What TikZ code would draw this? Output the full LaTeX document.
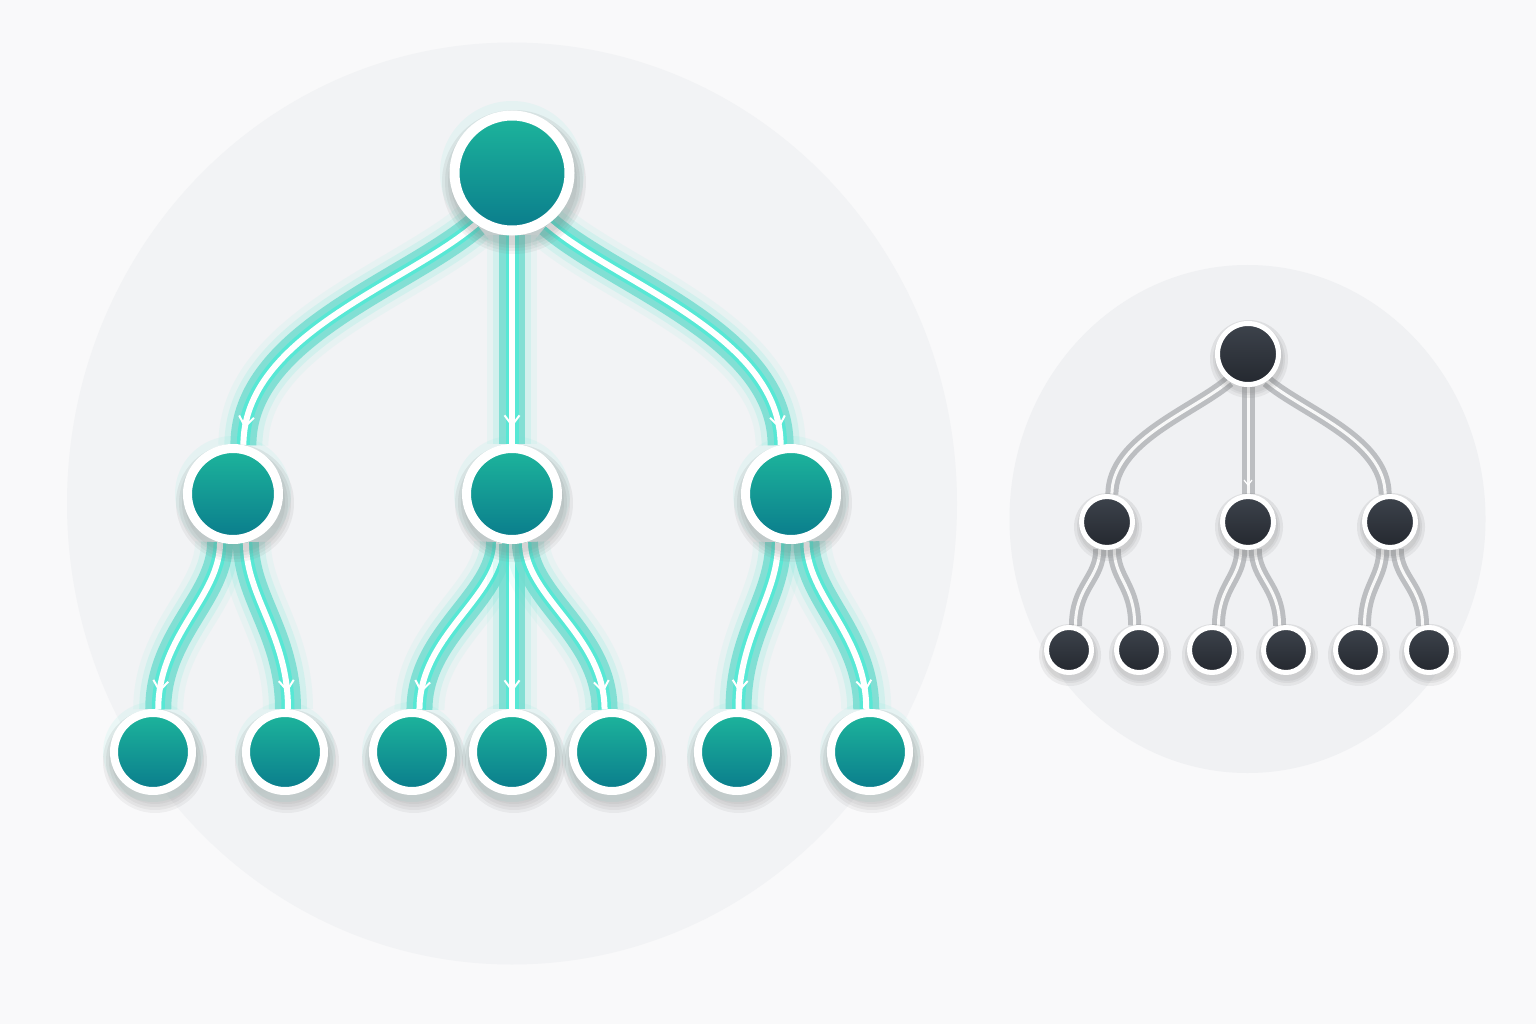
\documentclass[tikz,border=0pt]{standalone}
\usetikzlibrary{decorations.markings,arrows.meta}
\definecolor{pagebg}{HTML}{F9F9FA}
\definecolor{bigbg}{HTML}{F2F3F5}
\definecolor{smallbg}{HTML}{F0F1F3}
\definecolor{tealtop}{HTML}{1DB59C}
\definecolor{tealbot}{HTML}{0A7C8C}
\definecolor{darktop}{HTML}{3D434C}
\definecolor{darkbot}{HTML}{24282F}
\definecolor{tband}{HTML}{74DDD0}
\definecolor{tbright}{HTML}{45EDD6}
\definecolor{tglow}{HTML}{3FE6CF}
\definecolor{gband}{HTML}{B7B9BC}
\definecolor{shade}{HTML}{5A6470}
\pgfdeclarelayer{bgzero}
\pgfdeclarelayer{edges}
\pgfdeclarelayer{shadows}
\pgfsetlayers{bgzero,edges,shadows,main}
\tikzset{
  tnode/.style={circle, draw=white, inner sep=0pt, top color=tealtop, bottom color=tealbot},
  troot/.style={tnode, line width=10pt, minimum size=115pt},
  tmid/.style={tnode, line width=9pt, minimum size=91pt},
  tleaf/.style={tnode, line width=8pt, minimum size=78pt},
  dnode/.style={circle, draw=white, inner sep=0pt, line width=5pt, top color=darktop, bottom color=darkbot},
  droot/.style={dnode, minimum size=61pt},
  dmid/.style={dnode, minimum size=51pt},
  dleaf/.style={dnode, minimum size=45pt},
  tedge/.style={draw=tband, line width=26pt, draw opacity=0.85,
    preaction={draw=tglow, line width=50pt, draw opacity=0.06},
    preaction={draw=tglow, line width=38pt, draw opacity=0.12},
    postaction={draw=tbright, line width=13pt, draw opacity=0.7},
    postaction={draw=white, line width=6pt, draw opacity=1},
    postaction={decorate, decoration={markings, mark=at position -17pt with
      {\arrow[white, draw opacity=1]{Straight Barb[length=10pt, width=15pt, line width=2pt]}}}}},
  gedge/.style={draw=gband, line width=13pt, draw opacity=0.9,
    postaction={draw=white, line width=3pt, draw opacity=0.9}},
  garrow/.style={postaction={decorate, decoration={markings, mark=at position -8pt with
      {\arrow[white, draw opacity=1]{Straight Barb[length=5pt, width=8pt, line width=1.2pt]}}}}}
}
\begin{document}
\begin{tikzpicture}[x=1pt,y=-1pt]
\begin{pgfonlayer}{bgzero}
\fill[pagebg] (0,0) rectangle (1536,1024);
\fill[bigbg] (512,503.5) ellipse[x radius=445pt, y radius=461pt];
\fill[smallbg] (1247.5,519) ellipse[x radius=238pt, y radius=254pt];
\end{pgfonlayer}
\useasboundingbox (0,0) rectangle (1536,1024);

% big tree nodes
\node[troot] (root) at (512,173) {};
\node[tmid] (l1) at (233,494) {};
\node[tmid] (m1) at (512,494) {};
\node[tmid] (r1) at (791,494) {};
\node[tleaf] (a) at (153,752) {};
\node[tleaf] (b) at (285,752) {};
\node[tleaf] (c) at (412,752) {};
\node[tleaf] (d) at (512,752) {};
\node[tleaf] (e) at (612,752) {};
\node[tleaf] (f) at (737,752) {};
\node[tleaf] (g) at (870,752) {};

% small tree nodes
\node[droot] (sr) at (1248,354) {};
\node[dmid] (sl) at (1107,522) {};
\node[dmid] (sm) at (1248,522) {};
\node[dmid] (sq) at (1390,522) {};
\node[dleaf] (la) at (1069,650) {};
\node[dleaf] (lb) at (1139,650) {};
\node[dleaf] (lc) at (1212,650) {};
\node[dleaf] (ld) at (1286,650) {};
\node[dleaf] (le) at (1358,650) {};
\node[dleaf] (lf) at (1429,650) {};

\begin{pgfonlayer}{shadows}
\foreach \n/\r in {root/63,l1/50,m1/50,r1/50,a/43,b/43,c/43,d/43,e/43,f/43,g/43}{
  \foreach \k in {9,6,3,0}{
    \fill[shade, opacity=0.045] ([shift={(2,9)}]\n.center) circle[radius=\r pt+\k pt];
  }
}
\foreach \n/\r in {sr/33,sl/28,sm/28,sq/28,la/25,lb/25,lc/25,ld/25,le/25,lf/25}{
  \foreach \k in {6,3,1}{
    \fill[shade, opacity=0.05] ([shift={(1,5)}]\n.center) circle[radius=\r pt+\k pt];
  }
}
\end{pgfonlayer}

\begin{pgfonlayer}{edges}
\foreach \n/\r in {root/72,l1/58,m1/58,r1/58,a/50,b/50,c/50,d/50,e/50,f/50,g/50}{
  \fill[tglow, opacity=0.07] (\n) circle[radius=\r pt];
}
\draw[tedge] (root.-125) .. controls +(-70,60) and +(0,-110) .. (l1.78);
\draw[tedge] (root.south) -- (m1.north);
\draw[tedge] (root.-55) .. controls +(70,60) and +(0,-110) .. (r1.102);

\draw[tedge] (l1.-105) .. controls +(0,55) and +(0,-75) .. (a.83);
\draw[tedge] (l1.-75) .. controls +(0,55) and +(0,-75) .. (b.86);
\draw[tedge] (m1.-105) .. controls +(0,55) and +(0,-75) .. (c.80);
\draw[tedge] (m1.south) -- (d.north);
\draw[tedge] (m1.-75) .. controls +(0,55) and +(0,-75) .. (e.100);
\draw[tedge] (r1.-105) .. controls +(0,55) and +(0,-75) .. (f.88);
\draw[tedge] (r1.-72) .. controls +(0,55) and +(0,-75) .. (g.95);

\draw[gedge] (sr.-125) .. controls +(-35,30) and +(0,-55) .. (sl.80);
\draw[gedge,garrow] (sr.south) -- (sm.north);
\draw[gedge] (sr.-55) .. controls +(35,30) and +(0,-55) .. (sq.100);
\draw[gedge] (sl.-105) .. controls +(0,30) and +(0,-40) .. (la.75);
\draw[gedge] (sl.-75) .. controls +(0,30) and +(0,-40) .. (lb.100);
\draw[gedge] (sm.-105) .. controls +(0,30) and +(0,-40) .. (lc.75);
\draw[gedge] (sm.-75) .. controls +(0,30) and +(0,-40) .. (ld.105);
\draw[gedge] (sq.-105) .. controls +(0,30) and +(0,-40) .. (le.75);
\draw[gedge] (sq.-75) .. controls +(0,30) and +(0,-40) .. (lf.105);
\end{pgfonlayer}
\end{tikzpicture}
\end{document}
